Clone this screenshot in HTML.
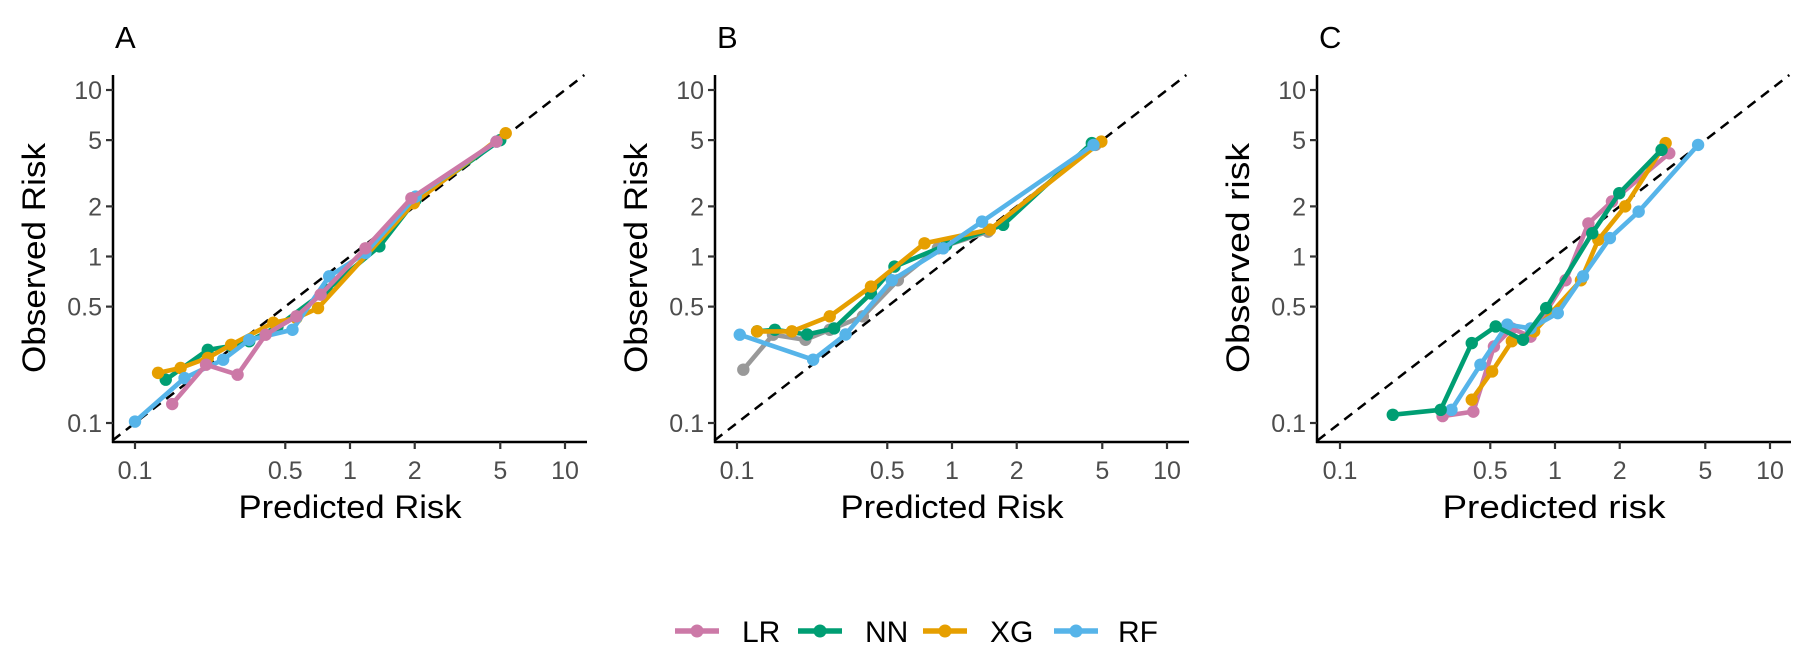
<!DOCTYPE html>
<html><head><meta charset="utf-8"><style>
html,body{margin:0;padding:0;background:#fff;}
svg{display:block;font-family:"Liberation Sans",Arial,sans-serif;}
</style></head><body>
<svg id="chart" width="1800" height="657" viewBox="0 0 1800 657"></svg>
<script>
const tickValues=[0.1,0.5,1,2,5,10];
const tickLabels=["0.1","0.5","1","2","5","10"];
const panelLetters=["A","B","C"];
const yTitles=["Observed Risk","Observed Risk","Observed risk"];
const xTitles=["Predicted Risk","Predicted Risk","Predicted risk"];
const seriesNames=["LR","NN","XG","RF"];
// Panel A
const aLRx=[0.149,0.214,0.30,0.405,0.563,0.73,1.18,1.93,4.8];
const aLRy=[0.130,0.224,0.195,0.339,0.437,0.59,1.12,2.24,4.9];
const aNNx=[0.139,0.218,0.28,0.34,0.46,0.78,1.37,2.02,5.0];
const aNNy=[0.182,0.275,0.29,0.31,0.38,0.63,1.15,2.19,5.0];
const aXGx=[0.128,0.163,0.218,0.28,0.44,0.563,0.71,1.98,5.3];
const aXGy=[0.2,0.214,0.246,0.295,0.4,0.427,0.49,2.09,5.5];
const aRFx=[0.1,0.17,0.257,0.34,0.54,0.8,1.18,2.02,4.8];
const aRFy=[0.102,0.186,0.24,0.316,0.363,0.76,1.05,2.29,4.9];
// Panel B
const bGRx=[0.107,0.147,0.208,0.27,0.385,0.56,0.86,1.47,4.65];
const bGRy=[0.209,0.339,0.316,0.363,0.437,0.72,1.12,1.41,4.68];
const bNNx=[0.124,0.15,0.212,0.283,0.42,0.54,0.94,1.73,4.47];
const bNNy=[0.355,0.363,0.34,0.37,0.6,0.87,1.17,1.55,4.8];
const bXGx=[0.124,0.18,0.27,0.42,0.745,1.5,4.95];
const bXGy=[0.355,0.355,0.437,0.66,1.2,1.45,4.9];
const bRFx=[0.103,0.226,0.32,0.525,0.91,1.38,4.55];
const bRFy=[0.339,0.24,0.34,0.72,1.12,1.62,4.68];
// Panel C
const cLRx=[0.3,0.417,0.52,0.63,0.77,1.12,1.43,1.84,3.4];
const cLRy=[0.11,0.117,0.288,0.37,0.33,0.72,1.58,2.14,4.17];
const cNNx=[0.176,0.294,0.41,0.53,0.71,0.91,1.49,1.99,3.13];
const cNNy=[0.112,0.12,0.302,0.38,0.316,0.49,1.38,2.4,4.37];
const cXGx=[0.41,0.51,0.63,0.8,1.32,1.59,2.12,3.27];
const cXGy=[0.138,0.204,0.31,0.355,0.72,1.26,2.0,4.8];
const cRFx=[0.33,0.45,0.6,0.77,1.03,1.35,1.8,2.45,4.63];
const cRFy=[0.12,0.224,0.39,0.37,0.457,0.76,1.29,1.86,4.68];

const colors={LR:"#CC79A7",NN:"#009E73",XG:"#E69F00",RF:"#56B4E9",GR:"#999999"};
const panels=[
 {ox:135,ax:113,series:[["NN",aNNx,aNNy],["XG",aXGx,aXGy],["RF",aRFx,aRFy],["LR",aLRx,aLRy]]},
 {ox:737,ax:715,series:[["GR",bGRx,bGRy],["NN",bNNx,bNNy],["XG",bXGx,bXGy],["RF",bRFx,bRFy]]},
 {ox:1340,ax:1317,series:[["LR",cLRx,cLRy],["XG",cXGx,cXGy],["RF",cRFx,cRFy],["NN",cNNx,cNNy]]}
];
const NS="http://www.w3.org/2000/svg";
const svg=document.getElementById("chart");
function mk(tag,attrs,parent){const e=document.createElementNS(NS,tag);for(const k in attrs)e.setAttribute(k,attrs[k]);(parent||svg).appendChild(e);return e;}
const DEC=215, Y0=423, YDEC=166.5, AXY=442, ATOP=75;
panels.forEach((p,i)=>{
 const g=mk("g",{});
 
 
 const xs=v=>p.ox+(Math.log10(v)+1)*DEC;
 const ys=v=>Y0-(Math.log10(v)+1)*YDEC;
 const right=p.ax+474;
 const lt=mk("text",{x:p.ax+2,y:48,"font-size":31,fill:"#000"},g);lt.textContent=panelLetters[i];
 
 
 const lo=-1.105,hi=1.09;
 const d=mk("line",{x1:xs(Math.pow(10,lo)),y1:ys(Math.pow(10,lo)),x2:xs(Math.pow(10,hi)),y2:ys(Math.pow(10,hi)),stroke:"#000","stroke-width":2.5,"stroke-dasharray":"10,7"},g);
 
 
 const ya=mk("line",{x1:p.ax,y1:ATOP,x2:p.ax,y2:AXY+1,stroke:"#000","stroke-width":2.5},g);
 
 
 const xa=mk("line",{x1:p.ax-1,y1:AXY,x2:right,y2:AXY,stroke:"#000","stroke-width":2.5},g);
 
 
 tickValues.forEach((v,k)=>{
  const x=xs(v);
  mk("line",{x1:x,y1:AXY,x2:x,y2:AXY+7,stroke:"#333","stroke-width":2.2},g);
  const t=mk("text",{x:x,y:479,"font-size":25,fill:"#4d4d4d","text-anchor":"middle"},g);t.textContent=tickLabels[k];
  
  
  const y=ys(v);
  mk("line",{x1:p.ax-7,y1:y,x2:p.ax,y2:y,stroke:"#333","stroke-width":2.2},g);
  const u=mk("text",{x:p.ax-11,y:y+9,"font-size":25,fill:"#4d4d4d","text-anchor":"end"},g);u.textContent=tickLabels[k];
  
  
 });
 const yt=mk("text",{x:0,y:0,"font-size":32,fill:"#000","text-anchor":"middle",transform:`translate(${p.ax-68},258) rotate(-90)`,textLength:230,lengthAdjust:"spacingAndGlyphs"},g);yt.textContent=yTitles[i];
 
 
 const xt=mk("text",{x:(p.ax+right)/2,y:518,"font-size":32,fill:"#000","text-anchor":"middle",textLength:223,lengthAdjust:"spacingAndGlyphs"},g);xt.textContent=xTitles[i];
 
 
 p.series.forEach(s=>{
  const [nm,X,Y]=s;const c=colors[nm];
  const pts=X.map((v,k)=>xs(v).toFixed(1)+","+ys(Y[k]).toFixed(1)).join(" ");
  const pl=mk("polyline",{points:pts,fill:"none",stroke:c,"stroke-width":4.6,"stroke-linejoin":"round"},g);
  
  
  X.forEach((v,k)=>{
   const ci=mk("circle",{cx:xs(v),cy:ys(Y[k]),r:6.2,fill:c},g);
   
   
  });
 });
});
const legX=[675,798,923,1054];
const legTX=[742,865,990,1118];
seriesNames.forEach((n,i)=>{
 const g=mk("g",{});
 
 
 mk("line",{x1:legX[i],y1:631,x2:legX[i]+44,y2:631,stroke:colors[n],"stroke-width":5.5},g);
 mk("circle",{cx:legX[i]+22,cy:631,r:6.5,fill:colors[n]},g);
 const t=mk("text",{x:legTX[i],y:642,"font-size":30,fill:"#000"},g);t.textContent=n;
});
</script>
</body></html>
